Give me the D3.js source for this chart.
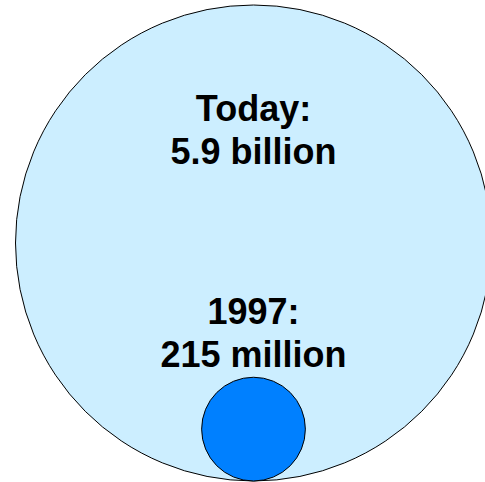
<!DOCTYPE html>
<html>
<head>
<meta charset="utf-8">
<script src="https://cdn.jsdelivr.net/npm/d3@7"></script>
<style>
  body { margin: 0; background: #fff; }
  svg { display: block; }
</style>
</head>
<body>
<div id="container"></div>
<script>
const width = 485,
  height = 482;

// population, in millions
const years = ["Today:", "1997:"];
const amounts = ["5.9 billion", "215 million"];
const population = [5900, 215];
const fills = ["#cceeff", "#0080ff"];

const data = years.map((y, i) => ({ year: y, amount: amounts[i], value: population[i], fill: fills[i] }));

// the picture does not keep strict area proportions, so a slightly flatter power scale
const rScale = d3.scalePow()
  .exponent(0.46)
  .domain([0, d3.max(population)])
  .range([0, 238]);

const cx = 253.5,
  bottom = 481;

const svg = d3.select("#container")
  .append("svg")
  .attr("width", width)
  .attr("height", height);

svg.selectAll("circle.pop")
  .data(data)
  .join("circle")
  .attr("class", "pop")
  .attr("cx", cx)
  .attr("cy", d => bottom - rScale(d.value))
  .attr("r", d => rScale(d.value))
  .attr("fill", d => d.fill)
  .attr("stroke", "#000")
  .attr("stroke-width", 1);

// label baselines
const labelY = [121, 324];

const labels = svg.selectAll("text.label")
  .data(data)
  .join("text")
  .attr("class", "label")
  .attr("text-anchor", "middle")
  .attr("x", cx)
  .attr("y", (d, i) => labelY[i])
  .style("font-family", "'Liberation Sans', Arial, sans-serif")
  .style("font-weight", "bold")
  .style("font-size", "36px")
  .style("fill", "#000");

labels.append("tspan")
  .attr("x", cx)
  .text(d => d.year);

labels.append("tspan")
  .attr("x", cx)
  .attr("dy", 43)
  .text(d => d.amount);
</script>
</body>
</html>
